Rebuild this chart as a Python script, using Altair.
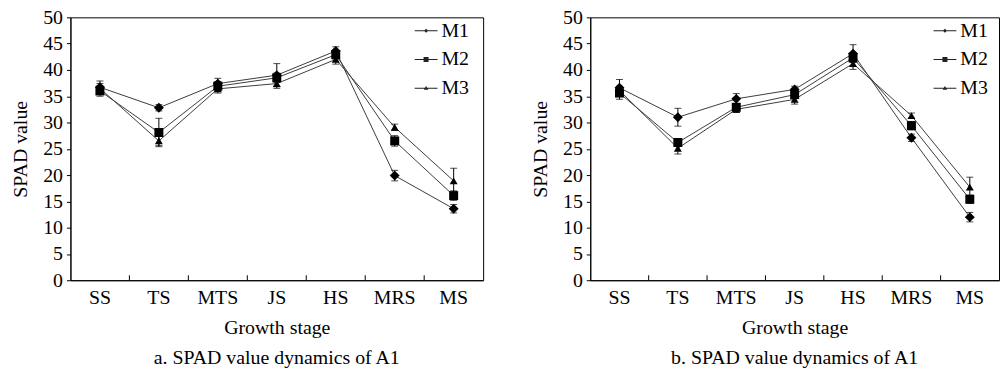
import altair as alt
import pandas as pd

stages = ["SS", "TS", "MTS", "JS", "HS", "MRS", "MS"]
series = ["M1", "M2", "M3"]

# Panel a
a_m1 = [36.7, 32.8, 37.4, 39.0, 43.6, 19.9, 13.6]
a_m2 = [36.0, 28.1, 36.9, 38.5, 42.9, 26.5, 16.1]
a_m3 = [36.5, 26.5, 36.4, 37.4, 42.0, 29.1, 18.9]
a_e1 = [1.2, 0.6, 1.0, 2.2, 0.8, 1.0, 0.8]
a_e2 = [1.0, 2.7, 0.9, 0.9, 0.8, 1.0, 0.9]
a_e3 = [0.9, 0.9, 0.8, 0.9, 0.9, 0.6, 2.4]

# Panel b
b_m1 = [36.6, 31.0, 34.5, 36.3, 43.1, 27.1, 12.0]
b_m2 = [35.6, 26.2, 32.9, 35.3, 42.3, 29.4, 15.4]
b_m3 = [36.1, 25.1, 32.5, 34.4, 41.2, 31.3, 17.7]
b_e1 = [1.6, 1.7, 1.0, 0.6, 1.7, 0.7, 0.9]
b_e2 = [1.2, 0.7, 0.6, 0.6, 0.8, 0.8, 0.8]
b_e3 = [0.8, 1.1, 0.6, 0.9, 1.1, 0.5, 1.9]

y_ticks = [0, 5, 10, 15, 20, 25, 30, 35, 40, 45, 50]

FONT = "Liberation Serif, Times New Roman, serif"
FS = 20
W_LEFT = 416
W_RIGHT = 412
H = 265
LINE_COLOR = "#3c3c3c"

# legend glyphs: a thin horizontal bar plus the series marker (all filled)
legend_paths = [
    "M-1,-0.04H1V0.04H-1ZM0,-0.18L0.18,0L0,0.18L-0.18,0Z",
    "M-1,-0.04H1V0.04H-1ZM-0.22,-0.22H0.22V0.22H-0.22Z",
    "M-1,-0.04H1V0.04H-1ZM0,-0.2L0.2,0.14H-0.2Z",
]


def frame(vals, errs):
    rows = []
    for s, v, e in zip(series, vals, errs):
        for st, y, err in zip(stages, v, e):
            rows.append(dict(stage=st, series=s, value=y, lo=y - err, hi=y + err))
    return pd.DataFrame(rows)


def panel(df, caption, width, legend_x):
    xscale = alt.Scale(type="band", domain=stages, paddingInner=0, paddingOuter=0)
    xaxis = alt.Axis(
        title="Growth stage", labelAngle=0, tickSize=0, labelPadding=7,
        titlePadding=11, grid=False,
    )
    yscale = alt.Scale(domain=[0, 50], nice=False)
    yaxis = alt.Axis(values=y_ticks, title="SPAD value", grid=False, tickSize=4,
                     labelPadding=4, titlePadding=12)
    X = alt.X("stage:N", sort=stages, scale=xscale, axis=xaxis)
    Y = alt.Y("value:Q", scale=yscale, axis=yaxis)

    base = alt.Chart(df)
    lines = base.mark_line(color=LINE_COLOR, strokeWidth=1).encode(
        x=X, y=Y, detail="series:N"
    )
    errs = base.mark_errorbar(ticks={"size": 7}, color="black", thickness=1).encode(
        x=X,
        y=alt.Y("lo:Q", scale=yscale, axis=yaxis, title="SPAD value"),
        y2="hi:Q",
    )
    pts = base.mark_point(filled=True, color="black", opacity=1).encode(
        x=X, y=Y,
        shape=alt.Shape("series:N", scale=alt.Scale(domain=series, range=["diamond", "square", "triangle-up"]), legend=None),
        size=alt.Size("series:N", scale=alt.Scale(domain=series, range=[100, 64, 40]), legend=None),
    )
    leg = base.mark_point(filled=True, color="#222222", size=529, opacity=1).encode(
        x=X, y=Y,
        shape=alt.Shape(
            "series:N",
            scale=alt.Scale(domain=series, range=legend_paths),
            legend=alt.Legend(
                title=None, orient="none", legendX=legend_x, legendY=1,
                labelFont=FONT, labelFontSize=FS, labelColor="black",
                labelOffset=3, rowPadding=6, symbolSize=529,
                symbolFillColor="#222222", padding=0,
            ),
        ),
    ).transform_filter("datum.series == 'none'")

    tick_df = pd.DataFrame({"stage": stages[1:]})
    ticks = alt.Chart(tick_df).mark_rule(color="black", strokeWidth=1).encode(
        x=alt.X("stage:N", sort=stages, scale=xscale, axis=xaxis, bandPosition=0),
        y=alt.value(H),
        y2=alt.value(H - 5),
    )

    return alt.layer(lines, errs, pts, ticks, leg).resolve_scale(
        shape="independent", size="independent"
    ).properties(
        width=width, height=H,
        title=alt.TitleParams(caption, orient="bottom", anchor="middle", frame="group",
                              font=FONT, fontSize=FS, fontWeight="normal",
                              color="black", offset=10),
    )


left = panel(frame([a_m1, a_m2, a_m3], [a_e1, a_e2, a_e3]),
             "a. SPAD value dynamics of A1", W_LEFT, 346)
right = panel(frame([b_m1, b_m2, b_m3], [b_e1, b_e2, b_e3]),
              "b. SPAD value dynamics of A1", W_RIGHT, 345)

chart = alt.hconcat(left, right, spacing=46).configure(
    padding={"left": 10, "top": 5, "right": 0, "bottom": 0},
    background="white",
).configure_view(
    stroke="black", strokeWidth=1
).configure_axis(
    labelFont=FONT, titleFont=FONT, labelFontSize=FS, titleFontSize=FS,
    labelColor="black", titleColor="black", titleFontWeight="normal",
    domainColor="black", tickColor="black", domainWidth=1,
).configure_legend(
    labelFont=FONT
).configure_title(
    font=FONT
)

chart.save("out.html", embed_options={"renderer": "svg", "actions": False})
